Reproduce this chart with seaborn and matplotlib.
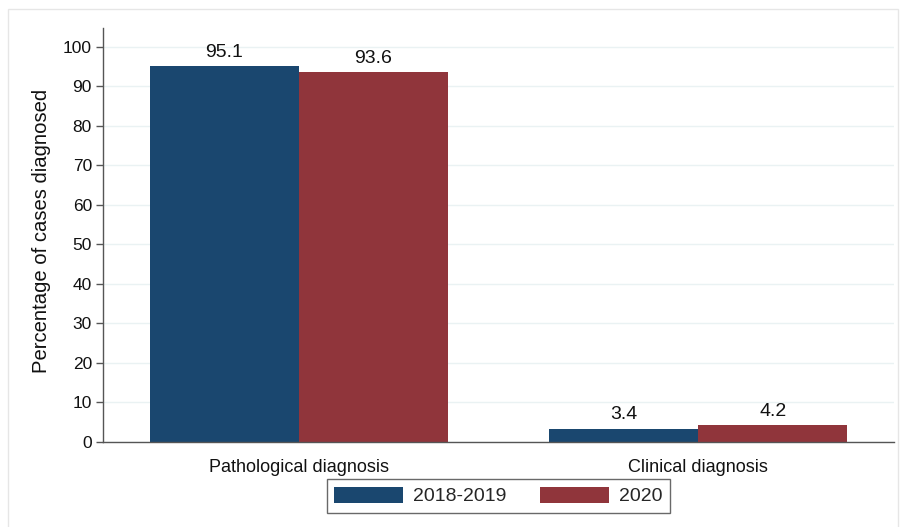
import matplotlib
matplotlib.use("Agg")
import matplotlib.pyplot as plt
from matplotlib.patches import Rectangle
import seaborn as sns
import pandas as pd

categories = ["Pathological diagnosis", "Clinical diagnosis"]
periods = ["2018-2019", "2020"]
values_2018_2019 = [95.1, 3.4]
values_2020 = [93.6, 4.2]
yticks = [0, 10, 20, 30, 40, 50, 60, 70, 80, 90, 100]

df = pd.DataFrame({
    "category": categories * 2,
    "period": [periods[0]] * 2 + [periods[1]] * 2,
    "value": values_2018_2019 + values_2020,
})

sns.set_theme(style="white")
plt.rcParams["font.family"] = ["Liberation Sans", "DejaVu Sans"]

fig = plt.figure(figsize=(9.01, 5.27), dpi=100)
fig.patch.set_facecolor("white")
ax = fig.add_axes([103 / 901, 85 / 527, 791 / 901, 414 / 527])

palette = {"2018-2019": "#1a476f", "2020": "#90353b"}
sns.barplot(data=df, x="category", y="value", hue="period", order=categories,
            hue_order=periods, palette=palette, width=0.746, gap=0,
            saturation=1, edgecolor="none", linewidth=0, ax=ax)

for cont in ax.containers:
    ax.bar_label(cont, fmt="%.1f", padding=4, fontsize=14, color="#111111")

ax.set_xlim(-0.49, 0.49 + 1)
ax.set_ylim(0, 104.8)
ax.set_yticks(yticks)
ax.set_yticklabels([str(t) for t in yticks], fontsize=12.5)
ax.tick_params(axis="y", which="both", left=True, length=5, width=1,
               color="#555555", pad=3, labelcolor="#111111")
ax.tick_params(axis="x", bottom=False, labelsize=13, pad=6, labelcolor="#111111")
ax.set_xlabel("")
ax.set_ylabel("Percentage of cases diagnosed", fontsize=14.6, color="#111111")
ax.yaxis.set_label_coords(-0.066, 0.51)

ax.yaxis.grid(True, color="#eaf2f3", linewidth=1)
ax.set_axisbelow(True)
for s in ["top", "right"]:
    ax.spines[s].set_visible(False)
for s in ["left", "bottom"]:
    ax.spines[s].set_color("#555555")
    ax.spines[s].set_linewidth(1)

handles, labels = ax.get_legend_handles_labels()
if ax.get_legend() is not None:
    ax.get_legend().remove()
leg = fig.legend(handles, labels, loc="center", bbox_to_anchor=(498.5 / 901, 31 / 527),
                 ncol=2, fontsize=14, frameon=True, fancybox=False,
                 handlelength=3.55, handleheight=0.93, handletextpad=0.5,
                 columnspacing=1.75, borderpad=0.4, borderaxespad=0)
leg.get_frame().set_edgecolor("#444444")
leg.get_frame().set_linewidth(1)

fig.patches.append(Rectangle((8 / 901, -0.01), 890 / 901, (527 - 9) / 527 + 0.01,
                             transform=fig.transFigure, fill=False,
                             edgecolor="#e6e6e6", linewidth=1))

fig.savefig("out.png", dpi=100)
